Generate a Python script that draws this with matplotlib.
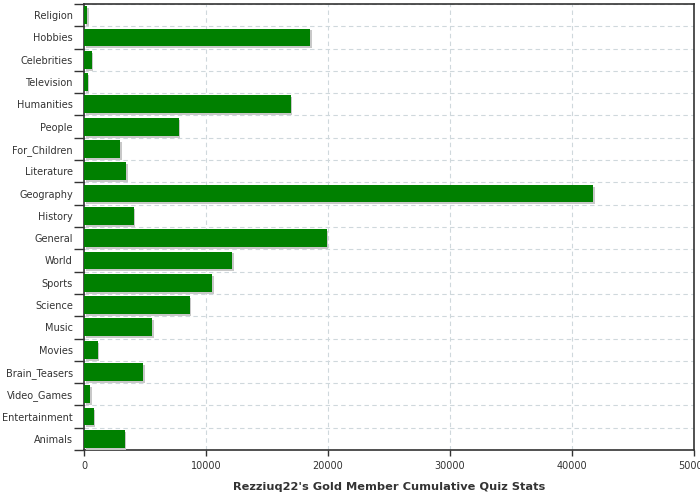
import matplotlib
matplotlib.use("Agg")
import matplotlib.pyplot as plt
import matplotlib.patheffects as pe
import numpy as np

# -------------------------
# DATA (top to bottom)
# -------------------------
categories = [
    "Religion", "Hobbies", "Celebrities", "Television", "Humanities",
    "People", "For_Children", "Literature", "Geography", "History",
    "General", "World", "Sports", "Science", "Music", "Movies",
    "Brain_Teasers", "Video_Games", "Entertainment", "Animals",
]
scores = [
    230, 18550, 615, 290, 16930,
    7750, 2990, 3480, 41760, 4060,
    19880, 12170, 10530, 8650, 5610, 1110,
    4800, 530, 780, 3320,
]
x_ticks = [0, 10000, 20000, 30000, 40000, 50000]
title = "Rezziuq22's Gold Member Cumulative Quiz Stats"

TEXT = "#333333"
GRID = "#cfd8dc"

fig = plt.figure(figsize=(7, 5), dpi=100)
ax = fig.add_axes([0.12, 0.1, 0.8714, 0.892])

y = np.arange(len(categories))
bars = ax.barh(y, scores, height=0.8, color="#008000", zorder=3)
for b in bars:
    b.set_path_effects([
        pe.SimplePatchShadow(offset=(1.4, -1.4), shadow_rgbFace="#c8c8c8", alpha=1.0),
        pe.Normal(),
    ])

ax.set_ylim(len(categories) - 0.5, -0.5)
ax.set_xlim(0, 50000)

ax.set_yticks(y)
ax.set_yticklabels(categories)
ax.set_yticks(np.arange(len(categories) + 1) - 0.5, minor=True)
ax.tick_params(axis="y", which="major", length=0, pad=8, labelsize=7, labelcolor=TEXT)
ax.tick_params(axis="y", which="minor", length=7.5, width=1, color=TEXT)

ax.set_xticks(x_ticks)
ax.set_xticklabels([str(t) for t in x_ticks])
ax.tick_params(axis="x", length=4, width=1, color=TEXT, labelsize=7, labelcolor=TEXT, pad=4)

ax.grid(axis="y", which="minor", color=GRID, linestyle=(0, (4, 3)), linewidth=0.8, zorder=0)
ax.grid(axis="x", which="major", color=GRID, linestyle=(0, (4, 3)), linewidth=0.8, zorder=0)

for side in ["left", "bottom", "top", "right"]:
    ax.spines[side].set_color(TEXT)
    ax.spines[side].set_linewidth(1.2)

ax.set_xlabel(title, fontsize=8.2, fontweight="bold", color=TEXT, labelpad=7.5)

fig.savefig("out.png", dpi=100)
